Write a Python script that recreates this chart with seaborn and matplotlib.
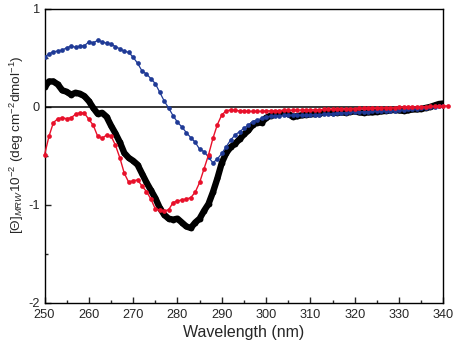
import numpy as np
import pandas as pd
import matplotlib
matplotlib.use("Agg")
import matplotlib.pyplot as plt
import seaborn as sns

# ---- data ----
wl_blue = list(range(250, 341))
cd_blue = [0.51, 0.54, 0.565, 0.57, 0.58, 0.605, 0.62, 0.61, 0.62, 0.625,
           0.665, 0.655, 0.68, 0.665, 0.65, 0.645, 0.615, 0.595, 0.568, 0.558,
           0.507, 0.446, 0.367, 0.337, 0.289, 0.238, 0.15, 0.061, -0.01, -0.089,
           -0.156, -0.204, -0.262, -0.313, -0.36, -0.432, -0.456, -0.513, -0.57, -0.53,
           -0.475, -0.405, -0.337, -0.286, -0.252, -0.218, -0.184, -0.15, -0.133, -0.116,
           -0.10, -0.095, -0.09, -0.088, -0.087, -0.086, -0.085, -0.085, -0.085, -0.084,
           -0.082, -0.08, -0.078, -0.075, -0.072, -0.07, -0.066, -0.062, -0.058, -0.055,
           -0.052, -0.05, -0.048, -0.047, -0.045, -0.042, -0.04, -0.04, -0.038, -0.037,
           -0.035, -0.03, -0.026, -0.022, -0.016, -0.01, -0.006, -0.002, 0.004, 0.008,
           0.01]

wl_red = list(range(250, 342))
cd_red = [-0.49, -0.30, -0.16, -0.12, -0.11, -0.12, -0.11, -0.075, -0.058, -0.065,
          -0.126, -0.187, -0.30, -0.32, -0.286, -0.296, -0.39, -0.52, -0.677, -0.769,
          -0.752, -0.745, -0.806, -0.864, -0.94, -1.041, -1.05, -1.06, -1.05, -0.976,
          -0.959, -0.949, -0.94, -0.925, -0.87, -0.77, -0.63, -0.49, -0.32, -0.18,
          -0.08, -0.04, -0.03, -0.035, -0.04, -0.04, -0.045, -0.045, -0.045, -0.045,
          -0.04, -0.04, -0.038, -0.037, -0.036, -0.035, -0.034, -0.033, -0.032, -0.031,
          -0.03, -0.029, -0.028, -0.026, -0.025, -0.024, -0.022, -0.021, -0.02, -0.019,
          -0.017, -0.015, -0.013, -0.012, -0.011, -0.01, -0.009, -0.008, -0.007, -0.006,
          -0.005, -0.003, -0.002, 0.0, 0.0, 0.002, 0.004, 0.005, 0.006, 0.008,
          0.009, 0.01]

wl_black = list(range(250, 341))
cd_black = [0.20, 0.26, 0.26, 0.23, 0.17, 0.155, 0.125, 0.145, 0.135, 0.11,
            0.06, -0.01, -0.07, -0.06, -0.10, -0.19, -0.27, -0.36, -0.47, -0.52,
            -0.55, -0.59, -0.68, -0.77, -0.85, -0.93, -1.03, -1.10, -1.14, -1.15,
            -1.14, -1.18, -1.22, -1.235, -1.18, -1.14, -1.06, -0.99, -0.87, -0.73,
            -0.57, -0.47, -0.41, -0.375, -0.33, -0.28, -0.24, -0.18, -0.16, -0.16,
            -0.11, -0.09, -0.075, -0.065, -0.06, -0.07, -0.10, -0.095, -0.085, -0.08,
            -0.075, -0.072, -0.07, -0.055, -0.05, -0.06, -0.058, -0.055, -0.06, -0.05,
            -0.045, -0.055, -0.06, -0.055, -0.055, -0.05, -0.045, -0.04, -0.035, -0.03,
            -0.035, -0.04, -0.035, -0.025, -0.025, -0.02, -0.01, 0.0, 0.015, 0.03,
            0.035]

x_ticks = [250, 260, 270, 280, 290, 300, 310, 320, 330, 340]
y_ticks = [-2, -1, 0, 1]

# ---- style ----
sns.set_style("ticks")
plt.rcParams["font.family"] = ["Liberation Sans", "DejaVu Sans"]
plt.rcParams["mathtext.fontset"] = "custom"
plt.rcParams["mathtext.rm"] = "Liberation Sans"
plt.rcParams["mathtext.it"] = "Liberation Sans:italic"
plt.rcParams["mathtext.bf"] = "Liberation Sans:bold"
plt.rcParams["axes.unicode_minus"] = False

fig = plt.figure(figsize=(4.59, 3.45), dpi=100)
ax = fig.add_axes([0.097, 0.122, 0.869, 0.852])

blue_df = pd.DataFrame({"wl": wl_blue, "cd": cd_blue})
red_df = pd.DataFrame({"wl": wl_red, "cd": cd_red})
black_df = pd.DataFrame({"wl": wl_black, "cd": cd_black})

ax.axhline(0, color="black", lw=1.1, zorder=1)

sns.lineplot(data=black_df, x="wl", y="cd", ax=ax, color="black", lw=4.6,
             marker="o", markersize=4.2, markeredgewidth=0, zorder=3)
sns.lineplot(data=blue_df, x="wl", y="cd", ax=ax, color="#1f3a96", lw=0.9,
             marker="o", markersize=3.4, markeredgewidth=0, zorder=4)
sns.lineplot(data=red_df, x="wl", y="cd", ax=ax, color="#e8102a", lw=1.0,
             marker="o", markersize=3.4, markeredgewidth=0, zorder=5, clip_on=False)

ax.set_xlim(250, 340)
ax.set_ylim(-2, 1)
ax.set_xticks(x_ticks)
ax.set_yticks(y_ticks)
ax.set_xticks(np.arange(255, 340, 10), minor=True)
ax.set_yticks([-1.5, -0.5, 0.5], minor=True)
ax.tick_params(axis="both", which="major", direction="in", length=4, width=1,
               labelsize=9.2, top=False, right=False, pad=3.5)
ax.tick_params(axis="x", which="major", pad=4.5)
ax.tick_params(axis="both", which="minor", direction="in", length=2.2, width=1,
               top=False, right=False)
for s in ax.spines.values():
    s.set_linewidth(1.0)
    s.set_color("black")

ax.set_xlabel("Wavelength (nm)", fontsize=11.5, labelpad=3)
ax.set_ylabel(r"[Θ]$_{\it MRW}$10$^{-2}$ (deg cm$^{-2}$dmol$^{-1}$)", fontsize=9.7)
ax.yaxis.set_label_coords(-0.046, 0.537)

fig.savefig("out.png", dpi=100)
